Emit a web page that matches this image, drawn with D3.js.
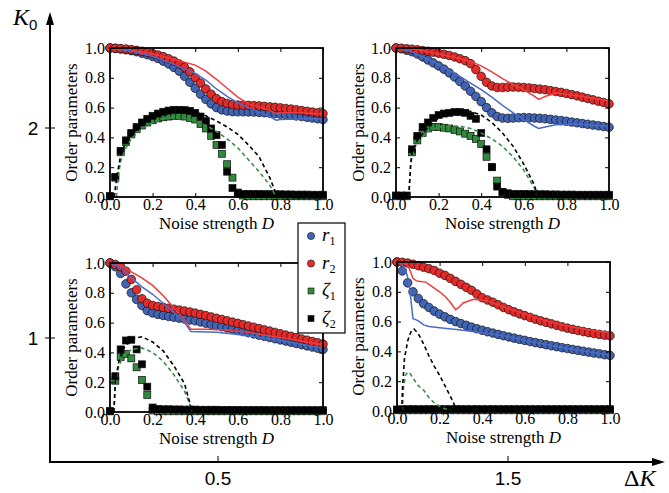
<!DOCTYPE html>
<html lang="en">
<head>
<meta charset="utf-8">
<script src="https://d3js.org/d3.v7.min.js"></script>
<style>
  body { margin: 0; background: #fff; }
  svg { display: block; }
  .serif { font-family: "Liberation Serif", "DejaVu Serif", serif; }
  .sans { font-family: "Liberation Sans", Arial, sans-serif; }
</style>
</head>
<body>
<svg id="chart" width="669" height="493"></svg>
<script>
// noise strength grid of the simulation points
var noiseD = [0, 0.025, 0.05, 0.075, 0.1, 0.125, 0.15, 0.175, 0.2, 0.225, 0.25, 0.275, 0.3, 0.325, 0.35, 0.375, 0.4,
  0.425, 0.45, 0.475, 0.5, 0.525, 0.55, 0.575, 0.6, 0.625, 0.65, 0.675, 0.7, 0.725, 0.75, 0.775, 0.8, 0.825, 0.85,
  0.875, 0.9, 0.925, 0.95, 0.975, 1.0];
var tickVals = [0, 0.2, 0.4, 0.6, 0.8, 1.0];

// ---- K0 = 2, dK = 0.5 (top left)
var r1_a = [1.0, .997, .993, .988, .982, .975, .965, .955, .943, .93, .912, .893, .87, .845, .81, .77, .73, .69, .655, .625,
  .6, .585, .577, .573, .572, .572, .571, .57, .568, .566, .563, .56, .556, .552, .548, .544, .54, .535, .53, .525, .52];
var r2_a = [1.0, .998, .996, .993, .989, .984, .978, .97, .962, .953, .942, .928, .912, .893, .87, .84, .8, .765, .725, .69,
  .66, .64, .628, .62, .617, .616, .615, .613, .611, .608, .605, .602, .598, .594, .59, .585, .58, .575, .57, .565, .56];
var z1_a = [.005, .13, .3, .37, .42, .455, .48, .5, .515, .527, .535, .54, .545, .545, .54, .53, .52, .49, .46, .41,
  .35, .29, .22, .13, .03, .01, .005, .005, .005, .005, .005, .005, .005, .005, .005, .005, .005, .005, .005, .005, .005];
var z2_a = [.005, .135, .31, .38, .43, .47, .5, .525, .545, .56, .572, .58, .585, .585, .583, .578, .565, .54, .51, .46,
  .415, .35, .17, .06, .025, .02, .02, .02, .02, .019, .019, .018, .018, .017, .017, .016, .016, .016, .015, .015, .015];
var r1Line_a = [[0, 1.0], [0.1, 0.98], [0.2, 0.945], [0.3, 0.89], [0.4, 0.83], [0.45, 0.785], [0.5, 0.725], [0.55, 0.675],
  [0.6, 0.632], [0.65, 0.6], [0.7, 0.57], [0.75, 0.54], [0.78, 0.515], [0.8, 0.52], [0.9, 0.525], [1.0, 0.525]];
var r2Line_a = [[0, 1.0], [0.1, 0.985], [0.2, 0.96], [0.3, 0.925], [0.4, 0.885], [0.45, 0.845], [0.5, 0.79], [0.55, 0.73],
  [0.6, 0.67], [0.65, 0.625], [0.7, 0.605], [0.75, 0.58], [0.78, 0.56], [0.8, 0.565], [0.9, 0.565], [1.0, 0.555]];
var z1Dash_a = [[0.03, 0], [0.04, 0.15], [0.05, 0.24], [0.075, 0.33], [0.1, 0.39], [0.15, 0.46], [0.2, 0.5], [0.25, 0.525],
  [0.3, 0.535], [0.35, 0.53], [0.4, 0.51], [0.45, 0.48], [0.5, 0.44], [0.55, 0.39], [0.6, 0.33], [0.65, 0.25],
  [0.7, 0.17], [0.75, 0.08], [0.78, 0]];
var z2Dash_a = [[0.02, 0], [0.03, 0.12], [0.05, 0.28], [0.075, 0.37], [0.1, 0.42], [0.15, 0.49], [0.2, 0.535], [0.25, 0.565],
  [0.3, 0.58], [0.35, 0.58], [0.4, 0.57], [0.45, 0.545], [0.5, 0.51], [0.55, 0.47], [0.6, 0.42], [0.65, 0.35],
  [0.7, 0.27], [0.75, 0.13], [0.775, 0.04], [0.785, 0]];

// ---- K0 = 2, dK = 1.5 (top right)
var r1_b = [1.0, .995, .985, .975, .96, .94, .92, .9, .88, .858, .833, .805, .775, .745, .71, .675, .64, .6, .565, .54,
  .53, .528, .53, .532, .533, .532, .53, .528, .525, .521, .517, .513, .508, .503, .498, .493, .488, .483, .478, .473, .468];
var r2_b = [1.0, .998, .995, .992, .988, .983, .978, .972, .965, .958, .95, .94, .928, .915, .895, .855, .81, .77, .745, .735,
  .735, .737, .738, .737, .735, .732, .728, .724, .72, .714, .708, .702, .695, .687, .679, .67, .661, .652, .643, .634, .625];
var z1_b = [.005, .005, .005, .3, .38, .43, .46, .47, .47, .465, .46, .45, .44, .425, .41, .39, .355, .27, .2, .11,
  .03, .015, .005, .005, .005, .005, .005, .005, .005, .005, .005, .005, .005, .005, .005, .005, .005, .005, .005, .005, .005];
var z2_b = [.01, .01, .01, .32, .41, .47, .5, .53, .55, .56, .565, .57, .57, .565, .545, .525, .43, .32, .2, .07,
  .035, .025, .02, .02, .02, .019, .019, .018, .018, .017, .017, .016, .016, .016, .015, .015, .015, .015, .015, .015, .015];
var r1Line_b = [[0, 1.0], [0.05, 0.985], [0.1, 0.96], [0.15, 0.925], [0.2, 0.89], [0.25, 0.85], [0.3, 0.81], [0.35, 0.765],
  [0.4, 0.72], [0.45, 0.67], [0.5, 0.615], [0.55, 0.565], [0.6, 0.52], [0.65, 0.475], [0.67, 0.46], [0.7, 0.47],
  [0.75, 0.485], [0.85, 0.49], [1.0, 0.475]];
var r2Line_b = [[0, 1.0], [0.1, 0.99], [0.2, 0.96], [0.3, 0.93], [0.35, 0.91], [0.4, 0.88], [0.45, 0.84], [0.5, 0.795],
  [0.55, 0.755], [0.6, 0.72], [0.65, 0.675], [0.67, 0.655], [0.7, 0.675], [0.75, 0.7], [0.8, 0.69], [0.9, 0.67], [1.0, 0.645]];
var z1Dash_b = [[0.06, 0], [0.068, 0.2], [0.075, 0.28], [0.1, 0.37], [0.15, 0.44], [0.2, 0.47], [0.25, 0.478], [0.3, 0.475],
  [0.35, 0.46], [0.4, 0.43], [0.45, 0.39], [0.5, 0.34], [0.55, 0.27], [0.6, 0.18], [0.65, 0.06], [0.665, 0]];
var z2Dash_b = [[0.06, 0], [0.068, 0.2], [0.075, 0.3], [0.1, 0.38], [0.15, 0.47], [0.2, 0.53], [0.25, 0.56], [0.3, 0.575],
  [0.35, 0.575], [0.4, 0.55], [0.45, 0.5], [0.5, 0.43], [0.55, 0.34], [0.6, 0.22], [0.65, 0.08], [0.665, 0]];

// ---- K0 = 1, dK = 0.5 (bottom left)
var r1_c = [1.0, .975, .93, .86, .8, .755, .715, .68, .665, .655, .648, .642, .636, .63, .624, .618, .612, .604, .596, .588,
  .58, .572, .564, .556, .548, .54, .532, .524, .516, .508, .5, .492, .484, .476, .468, .46, .452, .444, .436, .428, .42];
var r2_c = [1.0, .99, .975, .945, .89, .82, .76, .73, .715, .708, .702, .696, .69, .684, .678, .671, .664, .655, .647, .638,
  .629, .621, .612, .603, .595, .586, .577, .569, .56, .551, .543, .534, .525, .516, .508, .499, .49, .482, .473, .465, .456];
var z1_c = [.005, .21, .37, .39, .36, .3, .215, .115, .01, .005, .005, .005, .005, .005, .005, .005, .005, .005, .005, .005,
  .005, .005, .005, .005, .005, .005, .005, .005, .005, .005, .005, .005, .005, .005, .005, .005, .005, .005, .005, .005, .005];
var z2_c = [.005, .24, .42, .48, .485, .42, .32, .17, .03, .02, .018, .018, .017, .017, .016, .016, .016, .015, .015, .015,
  .015, .014, .014, .014, .014, .013, .013, .013, .013, .013, .012, .012, .012, .012, .012, .012, .012, .012, .012, .012, .012];
var r1Line_c = [[0, 1.0], [0.05, 0.97], [0.1, 0.9], [0.15, 0.84], [0.2, 0.79], [0.25, 0.73], [0.3, 0.67], [0.35, 0.6],
  [0.38, 0.54], [0.5, 0.535], [0.6, 0.52], [0.8, 0.48], [1.0, 0.43]];
var r2Line_c = [[0, 1.0], [0.05, 0.985], [0.1, 0.94], [0.15, 0.9], [0.2, 0.85], [0.25, 0.78], [0.3, 0.7], [0.35, 0.62],
  [0.38, 0.555], [0.45, 0.555], [0.55, 0.55], [0.65, 0.535], [0.8, 0.5], [1.0, 0.45]];
var z1Dash_c = [[0.018, 0], [0.025, 0.18], [0.04, 0.3], [0.06, 0.37], [0.1, 0.42], [0.15, 0.43], [0.2, 0.4], [0.25, 0.34],
  [0.3, 0.25], [0.35, 0.14], [0.375, 0.05], [0.385, 0]];
var z2Dash_c = [[0.018, 0], [0.025, 0.2], [0.04, 0.33], [0.06, 0.42], [0.1, 0.49], [0.15, 0.505], [0.2, 0.47], [0.25, 0.41],
  [0.3, 0.31], [0.35, 0.19], [0.375, 0.06], [0.385, 0]];

// ---- K0 = 1, dK = 1.5 (bottom right)
var r1_d = [1.0, .94, .86, .8, .755, .72, .695, .67, .65, .632, .615, .6, .587, .575, .563, .552, .542, .532, .523, .514,
  .505, .497, .489, .481, .474, .466, .459, .452, .445, .438, .432, .425, .419, .413, .407, .401, .395, .389, .384, .378, .373];
var r2_d = [1.0, .998, .993, .985, .975, .965, .955, .943, .925, .91, .89, .87, .85, .83, .81, .785, .76, .745, .73, .713,
  .695, .68, .665, .652, .64, .628, .616, .605, .595, .585, .575, .565, .556, .548, .54, .533, .526, .52, .514, .509, .505];
var z1_d = [.005, .005, .005, .005, .005, .005, .005, .005, .005, .005, .005, .005, .005, .005, .005, .005, .005, .005, .005, .005,
  .005, .005, .005, .005, .005, .005, .005, .005, .005, .005, .005, .005, .005, .005, .005, .005, .005, .005, .005, .005, .005];
var z2_d = [.01, .012, .012, .012, .012, .012, .012, .012, .012, .012, .012, .012, .012, .012, .012, .012, .012, .012, .012, .012,
  .012, .012, .012, .012, .012, .012, .012, .012, .012, .012, .012, .012, .012, .012, .012, .012, .012, .012, .012, .012, .012];
var r1Line_d = [[0, 1.0], [0.02, 0.99], [0.04, 0.95], [0.055, 0.87], [0.065, 0.75], [0.075, 0.62], [0.085, 0.615], [0.1, 0.605],
  [0.125, 0.578], [0.15, 0.567], [0.2, 0.558], [0.3, 0.543], [0.4, 0.525], [0.45, 0.515], [0.5, 0.505], [0.6, 0.474],
  [0.8, 0.42], [1.0, 0.375]];
var r2Line_d = [[0, 1.0], [0.03, 0.995], [0.05, 0.98], [0.065, 0.93], [0.075, 0.89], [0.09, 0.875], [0.1, 0.87], [0.135, 0.865],
  [0.165, 0.835], [0.2, 0.8], [0.225, 0.77], [0.25, 0.73], [0.275, 0.68], [0.29, 0.695], [0.31, 0.725], [0.36, 0.75],
  [0.42, 0.74], [0.5, 0.7], [0.6, 0.65], [0.7, 0.605], [0.8, 0.57], [0.9, 0.545], [1.0, 0.525]];
var z1Dash_d = [[0.025, 0], [0.03, 0.15], [0.04, 0.24], [0.05, 0.26], [0.06, 0.255], [0.075, 0.22], [0.1, 0.17], [0.125, 0.14],
  [0.15, 0.09], [0.175, 0.055], [0.2, 0.03], [0.225, 0.015], [0.26, 0]];
var z2Dash_d = [[0.022, 0], [0.026, 0.15], [0.035, 0.35], [0.05, 0.47], [0.065, 0.53], [0.08, 0.55], [0.1, 0.52], [0.125, 0.45],
  [0.15, 0.37], [0.175, 0.3], [0.2, 0.24], [0.225, 0.17], [0.25, 0.1], [0.27, 0.04], [0.28, 0]];

// outer axis ticks
var k0Ticks = [1, 2];
var dKTicks = [0.5, 1.5];
var legendLabels = [["r", "1"], ["r", "2"], ["\u03B6", "1"], ["\u03B6", "2"]];

var colBlue = "#4264b4", colRed = "#e52a2a", colGreen = "#2f8a3c";
var lineBlue = "#4b6bc6", lineRed = "#ef3b3b", dashGreen = "#3c8f48";

var panels = [
  {left: 110, top: 48, ylab: 77, r1: r1_a, r2: r2_a, z1: z1_a, z2: z2_a, l1: r1Line_a, l2: r2Line_a, d1: z1Dash_a, d2: z2Dash_a},
  {left: 396, top: 48, ylab: 364, r1: r1_b, r2: r2_b, z1: z1_b, z2: z2_b, l1: r1Line_b, l2: r2Line_b, d1: z1Dash_b, d2: z2Dash_b},
  {left: 110, top: 263, ylab: 77, r1: r1_c, r2: r2_c, z1: z1_c, z2: z2_c, l1: r1Line_c, l2: r2Line_c, d1: z1Dash_c, d2: z2Dash_c},
  {left: 397, top: 262, ylab: 364, r1: r1_d, r2: r2_d, z1: z1_d, z2: z2_d, l1: r1Line_d, l2: r2Line_d, d1: z1Dash_d, d2: z2Dash_d}
];

var svg = d3.select("#chart");
var W = 213, H = 149;

// ---- big outer axes
var k0 = d3.scaleLinear().domain([1, 2]).range([338, 128]);
var dK = d3.scaleLinear().domain([0.5, 1.5]).range([218, 508]);
var ox = 50, oy = 462;
var outer = svg.append("g");
outer.append("line").attr("x1", ox).attr("y1", oy).attr("x2", ox).attr("y2", 22)
  .attr("stroke", "#000").attr("stroke-width", 2);
outer.append("path").attr("d", "M" + ox + ",12 L" + (ox - 4) + ",25 L" + (ox + 4) + ",25 Z").attr("fill", "#000");
outer.append("line").attr("x1", ox - 1).attr("y1", oy).attr("x2", 655).attr("y2", oy)
  .attr("stroke", "#000").attr("stroke-width", 2);
outer.append("path").attr("d", "M665," + oy + " L652," + (oy - 4) + " L652," + (oy + 4) + " Z").attr("fill", "#000");

outer.selectAll(".ky").data(k0Ticks).enter().append("line")
  .attr("x1", ox - 5).attr("x2", ox + 5)
  .attr("y1", function(d) { return k0(d); }).attr("y2", function(d) { return k0(d); })
  .attr("stroke", "#000").attr("stroke-width", 1);
outer.selectAll(".kl").data(k0Ticks).enter().append("text")
  .attr("class", "sans")
  .attr("x", 33).attr("y", function(d) { return k0(d) + 7; })
  .attr("text-anchor", "middle").style("font-size", "19px")
  .text(function(d) { return d; });
outer.selectAll(".dx").data(dKTicks).enter().append("line")
  .attr("x1", function(d) { return dK(d); }).attr("x2", function(d) { return dK(d); })
  .attr("y1", oy - 6).attr("y2", oy)
  .attr("stroke", "#000").attr("stroke-width", 1);
outer.selectAll(".dl").data(dKTicks).enter().append("text")
  .attr("class", "sans")
  .attr("x", function(d) { return dK(d); }).attr("y", 485)
  .attr("text-anchor", "middle").style("font-size", "19px")
  .text(function(d) { return d; });

var kLab = outer.append("text").attr("class", "serif").attr("x", 13).attr("y", 25).style("font-size", "24px");
kLab.append("tspan").style("font-style", "italic").text("K");
kLab.append("tspan").attr("class", "sans").style("font-size", "15px").attr("dy", 5).text("0");
var dLab = outer.append("text").attr("class", "serif").attr("x", 624).attr("y", 486).style("font-size", "24px");
dLab.append("tspan").text("\u0394");
dLab.append("tspan").style("font-style", "italic").text("K");

// ---- the four panels
panels.forEach(function(p) {
  var x = d3.scaleLinear().domain([0, 1]).range([0, W]);
  var y = d3.scaleLinear().domain([0, 1]).range([H, 0]);
  var g = svg.append("g").attr("transform", "translate(" + p.left + "," + p.top + ")");

  g.append("rect").attr("width", W).attr("height", H).attr("fill", "#fff");

  function circles(vals, col) {
    g.append("g").selectAll("circle").data(vals).enter().append("circle")
      .attr("cx", function(d, i) { return x(noiseD[i]); })
      .attr("cy", function(d) { return y(d); })
      .attr("r", 4.3)
      .attr("fill", col).attr("stroke", "#111").attr("stroke-width", 0.7);
  }
  function squares(vals, col) {
    var s = 7;
    g.append("g").selectAll("rect").data(vals).enter().append("rect")
      .attr("x", function(d, i) { return x(noiseD[i]) - s / 2; })
      .attr("y", function(d) { return y(d) - s / 2; })
      .attr("width", s).attr("height", s)
      .attr("fill", col).attr("stroke", "#111").attr("stroke-width", 0.7);
  }
  var line = d3.line().x(function(d) { return x(d[0]); }).y(function(d) { return y(d[1]); });

  circles(p.r1, colBlue);
  circles(p.r2, colRed);
  squares(p.z1, colGreen);
  squares(p.z2, "#000");

  g.append("path").datum(p.l2).attr("d", line).attr("fill", "none").attr("stroke", lineRed).attr("stroke-width", 1.5);
  g.append("path").datum(p.l1).attr("d", line).attr("fill", "none").attr("stroke", lineBlue).attr("stroke-width", 1.5);
  g.append("path").datum(p.d1).attr("d", line).attr("fill", "none").attr("stroke", dashGreen)
    .attr("stroke-width", 1.6).attr("stroke-dasharray", "4,3");
  g.append("path").datum(p.d2).attr("d", line).attr("fill", "none").attr("stroke", "#000")
    .attr("stroke-width", 1.6).attr("stroke-dasharray", "4,3");

  var fmt = d3.format(".1f");
  var ax = [
    g.append("g").call(d3.axisLeft(y).tickValues(tickVals).tickSize(-4).tickPadding(5).tickFormat(fmt)),
    g.append("g").attr("transform", "translate(" + W + ",0)").call(d3.axisRight(y).tickValues(tickVals).tickSize(-4).tickFormat("")),
    g.append("g").attr("transform", "translate(0," + H + ")").call(d3.axisBottom(x).tickValues(tickVals).tickSize(-4).tickPadding(2).tickFormat(fmt)),
    g.append("g").call(d3.axisTop(x).tickValues(tickVals).tickSize(-4).tickFormat(""))
  ];
  ax.forEach(function(a) {
    a.attr("font-family", null).attr("font-size", null);
    a.select(".domain").remove();
    a.selectAll("line").attr("stroke", "#000").attr("stroke-width", 1);
    a.selectAll("text").attr("class", "serif").style("font-size", "16px").attr("fill", "#000");
  });

  g.append("rect").attr("width", W).attr("height", H).attr("fill", "none")
    .attr("stroke", "#000").attr("stroke-width", 1.8);

  var xl = g.append("text").attr("class", "serif").attr("x", W / 2).attr("y", H + 32).attr("text-anchor", "middle")
    .style("font-size", "17px");
  xl.append("tspan").text("Noise strength ");
  xl.append("tspan").style("font-style", "italic").text("D");

  svg.append("text").attr("class", "serif")
    .attr("transform", "translate(" + p.ylab + "," + (p.top + H / 2) + ") rotate(-90)")
    .attr("text-anchor", "middle").style("font-size", "17px")
    .text("Order parameters");
});

// ---- legend
var leg = svg.append("g").attr("transform", "translate(298,223)");
leg.append("rect").attr("width", 47).attr("height", 110).attr("fill", "#fff")
  .attr("stroke", "#000").attr("stroke-width", 1.2);
var legCols = [colBlue, colRed, colGreen, "#000"];
legendLabels.forEach(function(lab, i) {
  var cy = 13 + i * 27.5;
  if (i < 2) {
    leg.append("circle").attr("cx", 13).attr("cy", cy).attr("r", 3.6)
      .attr("fill", legCols[i]).attr("stroke", "#111").attr("stroke-width", 0.6);
  } else {
    leg.append("rect").attr("x", 10).attr("y", cy - 3).attr("width", 6).attr("height", 6)
      .attr("fill", legCols[i]).attr("stroke", "#111").attr("stroke-width", 0.6);
  }
  var t = leg.append("text").attr("class", "serif").attr("x", 24).attr("y", cy + 5).style("font-size", "19px");
  t.append("tspan").style("font-style", "italic").text(lab[0]);
  t.append("tspan").style("font-size", "12px").attr("dy", 4).text(lab[1]);
});
</script>
</body>
</html>
